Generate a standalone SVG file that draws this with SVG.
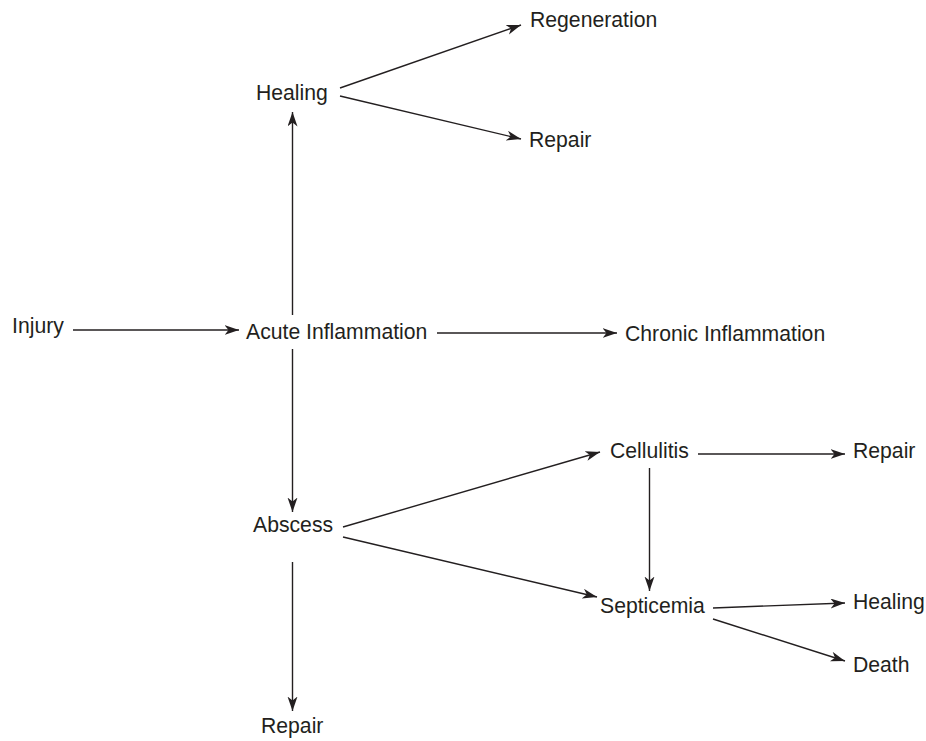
<svg xmlns="http://www.w3.org/2000/svg" width="926" height="741" viewBox="0 0 926 741">
<style>
text{font-family:"Liberation Sans",Arial,sans-serif;font-size:21.2px;fill:#231f20}
.c line{stroke:#231f20;stroke-width:1.4;marker-end:url(#ah)}
</style>
<defs>
<marker id="ah" markerUnits="userSpaceOnUse" markerWidth="16" markerHeight="11" refX="14.5" refY="5" orient="auto">
<path d="M0,0 L14.5,5 L0,10 L4,5 Z" fill="#231f20"/>
</marker>
</defs>
<rect width="926" height="741" fill="#fff"/>
<g class="c" id="connectors">
<line x1="73" y1="330" x2="239" y2="330"/>
<line x1="292.5" y1="315" x2="292.5" y2="112"/>
<line x1="340" y1="88" x2="521" y2="25"/>
<line x1="340" y1="96" x2="521" y2="139"/>
<line x1="437" y1="333" x2="617" y2="333"/>
<line x1="292.5" y1="349" x2="292.5" y2="512"/>
<line x1="292.5" y1="562" x2="292.5" y2="711"/>
<line x1="343" y1="527" x2="600" y2="452"/>
<line x1="343" y1="537" x2="597" y2="597"/>
<line x1="698" y1="454" x2="845" y2="454"/>
<line x1="649.5" y1="468" x2="649.5" y2="591"/>
<line x1="713" y1="608" x2="845" y2="603"/>
<line x1="713" y1="619" x2="845" y2="661"/>
</g>
<g id="injury"><text x="12" y="333">Injury</text></g>
<g id="acute"><text x="246" y="339">Acute Inflammation</text></g>
<g id="healing1"><text x="256" y="100">Healing</text></g>
<g id="regeneration"><text x="530" y="27">Regeneration</text></g>
<g id="repair1"><text x="529" y="147">Repair</text></g>
<g id="chronic"><text x="625" y="341">Chronic Inflammation</text></g>
<g id="abscess"><text x="253" y="532">Abscess</text></g>
<g id="repair3"><text x="261" y="733">Repair</text></g>
<g id="cellulitis"><text x="610" y="458">Cellulitis</text></g>
<g id="repair2"><text x="853" y="458">Repair</text></g>
<g id="septicemia"><text x="600" y="613">Septicemia</text></g>
<g id="healing2"><text x="853" y="609">Healing</text></g>
<g id="death"><text x="853" y="672">Death</text></g>
</svg>
